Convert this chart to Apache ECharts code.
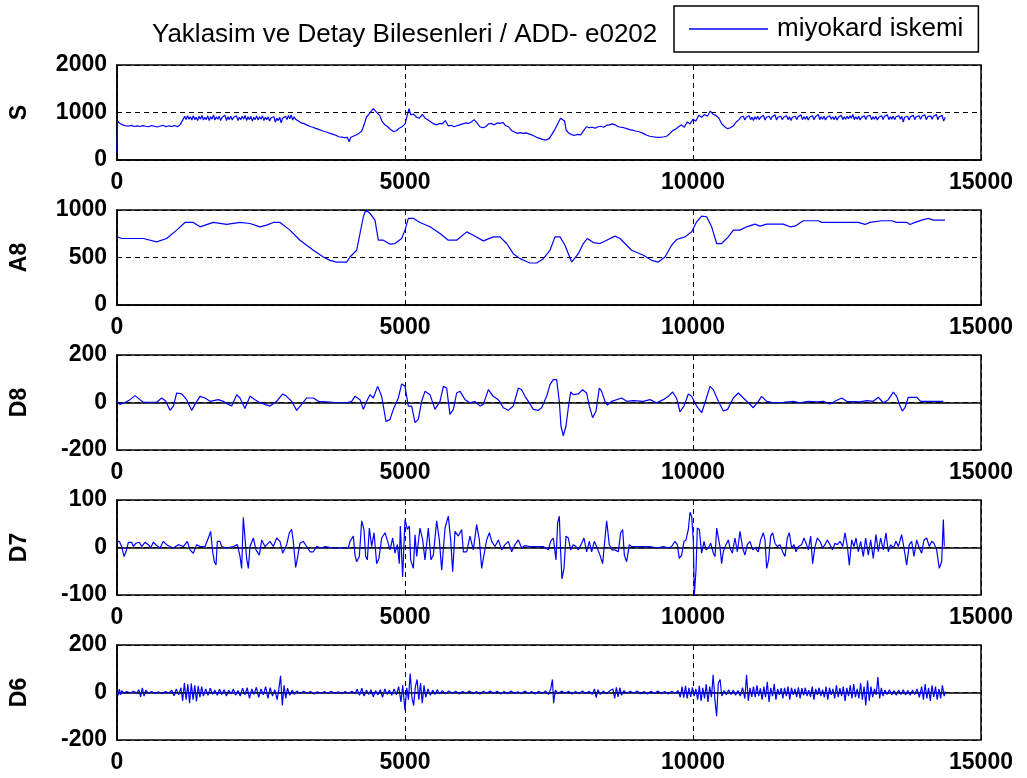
<!DOCTYPE html>
<html>
<head>
<meta charset="utf-8">
<style>
  html, body { margin: 0; padding: 0; background: #ffffff; }
  #chart { width: 1027px; height: 778px; }
</style>
<script src="https://cdn.jsdelivr.net/npm/echarts@6/dist/echarts.min.js"></script>
</head>
<body>
<div id="chart"></div>
<script>
// Wavelet decomposition of ECG record e0202: raw signal S, approximation A8, details D8, D7, D6.
const TITLE = 'Yaklasim ve Detay Bilesenleri / ADD- e0202';
const LEGEND_NAME = 'miyokard iskemi';
const PANEL_NAMES = ['S', 'A8', 'D8', 'D7', 'D6'];
const X_TICKS = [0, 5000, 10000, 15000];
const S_TICKS = [0, 1000, 2000];
const A8_TICKS = [0, 500, 1000];
const D8_TICKS = [-200, 0, 200];
const D7_TICKS = [-100, 0, 100];
const D6_TICKS = [-200, 0, 200];

// [sample index, amplitude]
const S_SIGNAL = [[0,150],[10,820],[50,770],[100,740],[150,720],[200,715],[250,730],[300,705],[350,720],[400,705],[450,725],[500,710],[550,700],[600,725],[650,710],[700,695],[750,715],[800,730],[850,700],[900,720],[950,705],[1000,725],[1050,700],[1100,750],
[1150,860],[1175,920],[1200,850],[1225,930],[1250,860],[1275,910],[1300,840],[1325,935],[1350,850],[1375,900],[1400,830],[1425,920],[1450,860],[1475,940],[1500,840],[1525,900],[1550,850],[1575,930],[1600,830],[1625,910],[1650,860],[1675,950],[1700,840],[1725,910],[1750,860],[1775,920],[1800,830],[1825,900],[1850,870],[1875,940],[1900,830],[1925,910],[1950,850],[1975,920],[2000,840],[2025,900],[2050,860],[2075,930],[2100,830],[2125,900],[2150,850],[2175,920],[2200,860],[2225,940],[2250,830],[2275,910],[2300,850],[2325,920],[2350,820],[2375,900],[2400,850],[2425,930],[2450,840],[2475,910],[2500,860],[2525,930],[2550,830],[2575,900],[2600,850],[2625,910],[2650,820],[2675,890],[2700,850],[2725,910],[2750,800],[2775,880],[2800,830],[2825,900],[2850,780],[2875,880],[2900,860],[2925,920],[2950,850],[2975,940],[3000,870],[3025,950],[3050,840],[3075,910],[3100,860],[3125,900],[3150,820],
[3200,780],[3250,765],[3300,735],[3350,705],[3400,690],[3450,665],[3500,645],[3550,620],[3600,600],[3650,585],[3700,560],[3750,540],[3800,520],[3850,490],[3900,480],[3950,470],[4000,478],[4030,385],[4060,480],[4100,500],[4150,525],[4200,560],[4250,610],[4300,780],[4330,900],[4370,960],[4400,1010],[4450,1080],[4480,1040],[4520,985],[4560,940],[4600,820],[4650,740],[4700,700],[4750,640],[4800,600],[4850,615],[4900,670],[4950,700],[5000,760],[5030,720],[5070,1080],[5100,950],[5150,965],[5200,900],[5250,880],[5300,960],[5350,880],[5400,840],[5450,800],[5500,760],[5550,740],[5600,770],[5650,760],[5700,830],[5750,720],[5800,730],[5850,700],[5900,720],[5950,740],[6000,760],[6050,780],[6100,770],[6150,800],[6200,850],[6250,780],[6300,700],[6350,680],[6400,700],[6450,760],[6500,770],[6550,740],[6600,780],[6650,770],[6700,790],[6750,720],[6800,700],[6850,620],[6900,590],[6950,560],[7000,575],[7050,560],[7100,570],[7150,550],[7200,530],[7250,500],[7300,470],[7350,450],[7400,430],[7450,420],[7500,450],[7550,540],[7600,640],[7650,760],[7700,880],[7730,910],[7770,820],[7800,620],[7850,560],[7900,530],[7950,520],[8000,540],[8050,530],[8100,620],[8150,700],[8200,680],[8250,690],[8300,670],[8350,700],[8400,710],[8450,690],[8500,730],[8550,740],[8600,760],[8650,740],[8700,700],[8750,690],[8800,680],[8850,660],[8900,640],[8950,630],[9000,610],[9050,600],[9100,580],[9150,550],[9200,520],[9250,500],[9300,490],[9350,480],[9400,478],[9450,480],[9500,490],[9550,505],[9600,560],[9650,620],[9700,650],[9750,700],[9800,740],[9850,690],[9900,800],[9950,760],[10000,860],[10050,820],[10100,940],[10150,900],[10200,960],[10250,920],[10300,1030],[10350,960],[10400,940],[10450,880],[10500,760],[10550,700],[10600,660],[10650,680],[10700,720],[10750,800],
[10800,850],[10825,900],[10850,860],[10875,920],[10900,840],[10925,900],[10950,870],[10975,930],[11000,850],[11025,900],[11050,830],[11075,910],[11100,860],[11125,920],[11150,850],[11175,900],[11200,870],[11225,940],[11250,840],[11275,900],[11300,860],[11325,920],[11350,850],[11375,910],[11400,880],[11425,950],[11450,840],[11475,900],[11500,860],[11525,920],[11550,850],[11575,900],[11600,870],[11625,930],[11650,850],[11675,910],[11700,830],[11725,900],[11750,860],[11775,920],[11800,850],[11825,910],[11850,880],[11875,950],[11900,850],[11925,910],[11950,860],[11975,920],[12000,840],[12025,900],[12050,870],[12075,930],[12100,850],[12125,910],[12150,880],[12175,960],[12200,850],[12225,910],[12250,860],[12275,920],[12300,840],[12325,900],[12350,870],[12375,930],[12400,860],[12425,910],[12450,850],[12475,920],[12500,840],[12525,900],[12550,870],[12575,940],[12600,850],[12625,910],[12650,860],[12675,920],[12700,870],[12725,930],[12750,880],[12775,960],[12800,850],[12825,910],[12850,860],[12875,920],[12900,840],[12925,900],[12950,870],[12975,930],[13000,850],[13025,920],[13050,880],[13075,940],[13100,850],[13125,910],[13150,860],[13175,920],[13200,840],[13225,900],[13250,870],[13275,930],[13300,850],[13325,920],[13350,880],[13375,950],[13400,850],[13425,910],[13450,860],[13475,920],[13500,850],[13525,910],[13550,870],[13575,930],[13600,860],[13625,920],[13650,800],[13675,900],[13700,860],[13725,920],[13750,840],[13775,910],[13800,870],[13825,940],[13850,850],[13875,910],[13900,870],[13925,930],[13950,860],[13975,920],[14000,880],[14025,950],[14050,850],[14075,910],[14100,870],[14125,930],[14150,860],[14175,920],[14200,880],[14225,960],[14250,850],[14275,910],[14300,870],[14325,940],[14350,820],[14380,900]];

const A8_SIGNAL = [[0,721],[81,700],[457,700],[689,664],[862,700],[1036,788],[1180,869],[1325,869],[1441,823],[1672,869],[1904,848],[2135,869],[2309,858],[2483,823],[2598,841],[2714,869],[2830,869],[3003,788],[3177,682],[3409,576],[3582,505],[3698,470],[3814,452],[3987,452],[4045,505],[4161,576],[4219,753],[4277,929],[4317,1000],[4392,965],[4479,894],[4537,682],[4624,682],[4740,640],[4826,647],[4942,700],[5000,788],[5058,912],[5145,912],[5260,869],[5434,823],[5608,753],[5752,682],[5897,682],[6071,770],[6186,735],[6360,675],[6534,717],[6649,717],[6765,647],[6880,540],[6996,488],[7170,442],[7286,442],[7401,488],[7517,576],[7604,717],[7691,717],[7777,629],[7893,452],[8009,540],[8096,647],[8165,700],[8270,657],[8385,647],[8501,682],[8646,725],[8732,700],[8935,576],[9138,523],[9282,470],[9398,452],[9513,505],[9629,629],[9716,689],[9861,717],[9977,770],[10063,876],[10150,936],[10237,929],[10324,823],[10411,647],[10497,647],[10613,717],[10700,788],[10816,788],[10931,823],[11076,851],[11163,830],[11279,851],[11568,851],[11684,823],[11770,830],[11915,887],[12176,887],[12234,870],[12870,870],[12986,848],[13072,870],[13275,887],[13449,887],[13535,870],[13709,870],[13767,848],[13854,870],[13970,894],[14085,912],[14172,894],[14375,894]];

const D8_SIGNAL = [[0,5],[50,-8],[139,0],[226,12],[312,29],[399,12],[457,1],[689,1],[775,19],[845,6],[920,-33],[978,-15],[1036,40],[1123,36],[1209,12],[1296,-33],[1354,-8],[1441,26],[1528,19],[1615,5],[1759,12],[1846,5],[1933,-8],[1990,-15],[2078,33],[2135,19],[2222,-25],[2309,26],[2396,12],[2483,-1],[2569,-8],[2656,-15],[2772,5],[2876,36],[2946,26],[3032,5],[3119,-33],[3206,-8],[3293,19],[3409,19],[3495,5],[3756,1],[3987,-1],[4074,5],[4132,26],[4219,12],[4277,-29],[4335,5],[4392,33],[4450,19],[4525,68],[4595,26],[4670,-80],[4740,-71],[4797,-29],[4884,19],[4942,78],[5000,68],[5058,-15],[5116,-15],[5174,-85],[5231,-71],[5289,5],[5347,47],[5434,33],[5521,-29],[5608,5],[5666,68],[5723,61],[5781,-50],[5839,-29],[5897,40],[5955,47],[6042,12],[6128,-1],[6215,5],[6302,-15],[6360,-8],[6447,54],[6533,26],[6620,12],[6707,-22],[6794,-33],[6880,-15],[6967,61],[7025,54],[7083,26],[7141,5],[7228,-29],[7314,-33],[7372,-22],[7459,26],[7517,75],[7575,96],[7633,96],[7679,5],[7708,-99],[7748,-140],[7795,-99],[7835,-22],[7876,44],[7922,33],[8009,36],[8084,54],[8153,40],[8200,-15],[8258,-64],[8316,-36],[8373,61],[8414,47],[8472,5],[8512,-11],[8588,5],[8761,19],[8848,5],[8964,8],[9138,5],[9253,12],[9369,-1],[9485,12],[9571,26],[9647,44],[9716,17],[9774,-39],[9843,-15],[9919,36],[9977,26],[10063,-15],[10150,-43],[10208,-1],[10295,68],[10353,54],[10440,5],[10526,-36],[10601,-29],[10700,19],[10787,40],[10874,19],[10960,-1],[11047,-22],[11134,5],[11192,26],[11279,5],[11394,-1],[11568,1],[11742,5],[11858,-1],[12002,5],[12147,3],[12263,5],[12379,-6],[12465,5],[12581,19],[12668,5],[12899,3],[13015,8],[13130,5],[13217,22],[13304,-1],[13391,12],[13478,44],[13536,26],[13594,-15],[13634,-36],[13680,-22],[13738,22],[13883,22],[13952,5],[14172,5],[14346,5]];

const D7_SIGNAL = [[0,13],[40,13],[81,2],[122,-19],[156,-9],[197,11],[255,11],[284,2],[330,9],[388,11],[428,2],[486,11],[544,6],[584,-1],[631,11],[689,4],[747,-1],[804,13],[862,6],[920,2],[978,-1],[1065,6],[1152,2],[1221,13],[1267,-5],[1325,-12],[1383,6],[1441,2],[1528,2],[1586,20],[1626,34],[1661,-9],[1690,-30],[1719,-37],[1742,13],[1788,13],[1817,2],[1904,-1],[2020,2],[2089,6],[2135,-18],[2164,-44],[2193,63],[2222,66],[2251,-23],[2280,-44],[2309,2],[2367,20],[2413,-5],[2471,-16],[2512,16],[2569,2],[2656,13],[2714,2],[2772,20],[2830,13],[2876,-12],[2946,6],[2992,31],[3032,38],[3061,13],[3102,-42],[3137,-19],[3177,9],[3235,13],[3293,2],[3351,-9],[3409,-9],[3466,2],[3553,-1],[3611,2],[3756,-1],[4016,-1],[4045,13],[4103,24],[4132,-16],[4161,-30],[4207,-19],[4248,56],[4288,38],[4317,-19],[4346,-26],[4381,41],[4421,2],[4462,31],[4508,-34],[4548,-23],[4595,20],[4653,31],[4699,13],[4740,-5],[4786,20],[4826,-12],[4867,6],[4901,-34],[4919,45],[4959,-62],[5000,59],[5041,38],[5075,45],[5098,-26],[5145,-44],[5174,27],[5203,-19],[5260,41],[5307,16],[5347,-26],[5405,41],[5451,-26],[5492,-16],[5550,56],[5596,16],[5637,-48],[5695,41],[5752,66],[5793,16],[5828,-51],[5868,34],[5926,24],[5984,38],[6013,-9],[6071,-9],[6128,24],[6186,-5],[6244,48],[6291,16],[6331,-44],[6360,-23],[6418,16],[6465,31],[6505,13],[6562,2],[6620,16],[6678,-5],[6736,6],[6794,13],[6852,-9],[6910,6],[6968,16],[7025,-1],[7083,4],[7170,2],[7401,2],[7488,-5],[7529,13],[7575,20],[7621,-26],[7650,52],[7679,66],[7702,-9],[7725,-66],[7760,-44],[7795,24],[7835,20],[7876,-5],[7922,6],[7968,2],[8009,-5],[8067,9],[8107,20],[8153,-9],[8200,13],[8240,-9],[8287,13],[8327,2],[8385,-16],[8431,-34],[8472,20],[8501,56],[8547,6],[8593,-5],[8646,-5],[8704,-9],[8744,31],[8779,38],[8808,-16],[8848,-30],[8894,6],[8935,2],[9022,2],[9138,2],[9253,2],[9369,-1],[9485,2],[9571,-1],[9629,2],[9687,13],[9727,6],[9762,-23],[9803,-16],[9843,13],[9878,16],[9919,38],[9948,74],[9977,66],[10005,16],[10023,-100],[10052,-48],[10075,41],[10110,38],[10150,-12],[10191,13],[10225,-5],[10266,-1],[10307,9],[10353,-12],[10382,-19],[10411,41],[10440,45],[10468,2],[10497,-34],[10526,-9],[10572,6],[10613,16],[10642,-1],[10683,-12],[10729,20],[10770,-9],[10816,34],[10862,-1],[10902,-16],[10943,6],[10989,13],[11036,-5],[11076,-1],[11134,-9],[11174,16],[11221,31],[11250,16],[11279,-44],[11313,-26],[11348,24],[11383,31],[11423,9],[11464,2],[11510,6],[11556,-9],[11597,-19],[11637,20],[11672,31],[11713,-1],[11753,6],[11788,-9],[11829,2],[11886,6],[11927,20],[11962,9],[12002,-5],[12043,24],[12077,-34],[12118,2],[12159,20],[12205,13],[12251,-1],[12291,6],[12332,16],[12378,6],[12424,-5],[12465,9],[12506,6],[12552,13],[12598,2],[12639,31],[12680,2],[12714,-37],[12755,16],[12795,2],[12830,20],[12870,-9],[12911,13],[12957,-19],[12997,20],[13044,-16],[13084,16],[13130,-23],[13177,27],[13217,-9],[13257,20],[13304,-5],[13350,31],[13391,-9],[13431,6],[13478,-1],[13524,13],[13565,2],[13622,27],[13663,-1],[13709,-37],[13755,6],[13796,13],[13836,-19],[13883,16],[13929,-1],[13970,-12],[14010,16],[14056,20],[14103,2],[14144,13],[14184,9],[14230,-5],[14276,-44],[14317,-30],[14346,59],[14363,2]];

const D6_SIGNAL = [[0,5],[20,-12],[40,14],[60,-10],[80,8],[120,-3],[170,4],[230,-2],[290,5],[340,-3],[380,12],[410,-18],[440,20],[470,-15],[500,10],[540,-3],[600,4],[660,-4],[720,3],[780,-5],[840,4],[900,-3],[950,10],[990,-14],[1030,15],[1070,-10],[1110,20],[1140,-35],[1170,40],[1200,-30],[1230,35],[1260,-45],[1290,38],[1320,-30],[1350,30],[1380,-38],[1410,28],[1440,-20],[1470,25],[1500,-15],[1540,15],[1580,-12],[1620,18],[1660,-8],[1700,10],[1740,-12],[1780,14],[1820,-8],[1860,12],[1900,-15],[1940,10],[1980,-6],[2020,15],[2060,-12],[2100,8],[2140,-15],[2180,18],[2220,-10],[2260,20],[2300,-25],[2340,15],[2380,-8],[2420,22],[2460,-20],[2500,15],[2540,-10],[2580,25],[2620,-25],[2660,20],[2700,-15],[2740,12],[2780,-30],[2810,15],[2840,70],[2870,-55],[2900,30],[2930,-25],[2960,18],[3000,-12],[3040,10],[3080,-8],[3120,6],[3180,-4],[3240,5],[3300,-3],[3360,4],[3420,-6],[3480,3],[3540,-4],[3600,4],[3660,-3],[3720,5],[3780,-4],[3840,3],[3900,-5],[3960,4],[4020,-3],[4080,5],[4130,-6],[4170,14],[4210,-12],[4250,18],[4290,-15],[4330,10],[4370,-8],[4410,12],[4450,-18],[4490,8],[4530,-10],[4570,12],[4610,-20],[4650,15],[4690,-8],[4730,10],[4770,-12],[4810,15],[4850,-10],[4890,25],[4930,-40],[4960,30],[5000,-75],[5030,20],[5060,-30],[5090,80],[5120,-20],[5150,-55],[5180,25],[5210,55],[5240,-30],[5270,40],[5300,-45],[5330,30],[5360,-20],[5400,15],[5440,-12],[5480,10],[5520,-8],[5560,12],[5600,-6],[5650,8],[5700,-5],[5760,6],[5820,-4],[5880,5],[5940,-6],[6000,4],[6060,-3],[6120,6],[6180,-5],[6240,4],[6300,-6],[6360,5],[6420,-3],[6480,6],[6540,-4],[6600,5],[6660,-6],[6720,4],[6780,-5],[6840,6],[6900,-4],[6960,3],[7020,-5],[7080,6],[7140,-4],[7200,4],[7260,-6],[7320,5],[7380,-4],[7440,6],[7490,-8],[7530,15],[7560,55],[7580,-45],[7610,10],[7660,-5],[7720,6],[7780,-4],[7840,5],[7900,-6],[7960,4],[8020,-5],[8080,6],[8140,-4],[8200,5],[8250,-8],[8290,15],[8320,-22],[8350,12],[8390,-8],[8440,6],[8500,-5],[8560,8],[8610,15],[8640,-25],[8670,22],[8700,-18],[8730,20],[8760,-12],[8800,8],[8850,-4],[8910,5],[8970,-3],[9030,6],[9090,-5],[9150,4],[9210,-6],[9270,5],[9330,-4],[9390,6],[9450,-5],[9510,4],[9570,-6],[9630,5],[9690,-4],[9740,8],[9780,-20],[9810,25],[9840,-22],[9870,28],[9900,-25],[9930,20],[9960,-18],[9990,22],[10020,-15],[10050,15],[10080,-30],[10110,28],[10140,-35],[10170,20],[10200,-25],[10230,35],[10260,-40],[10290,25],[10320,-20],[10350,75],[10380,-30],[10410,-100],[10440,40],[10470,55],[10500,-15],[10540,8],[10580,-10],[10620,12],[10660,-8],[10700,10],[10740,-12],[10780,8],[10820,-15],[10860,20],[10900,-25],[10930,75],[10960,-35],[10990,20],[11020,-18],[11050,25],[11080,-20],[11110,30],[11140,-15],[11170,18],[11200,-30],[11230,25],[11260,-20],[11290,45],[11320,-40],[11350,20],[11380,-15],[11410,35],[11440,-30],[11470,15],[11500,-10],[11530,18],[11560,-25],[11590,20],[11620,-15],[11650,25],[11680,-30],[11710,20],[11740,-10],[11770,15],[11800,-20],[11830,22],[11860,-25],[11890,18],[11920,-12],[11950,20],[11980,-15],[12010,10],[12040,-18],[12070,25],[12100,-30],[12130,15],[12160,-10],[12190,20],[12220,-15],[12250,12],[12280,-20],[12310,25],[12340,-30],[12370,20],[12400,-10],[12430,15],[12460,-25],[12490,30],[12520,-20],[12550,18],[12580,-15],[12610,25],[12640,-35],[12670,20],[12700,-15],[12730,30],[12760,-25],[12790,35],[12820,-20],[12850,15],[12880,-25],[12910,40],[12940,-30],[12970,25],[13000,-55],[13030,50],[13060,-35],[13090,25],[13120,-20],[13150,15],[13180,-10],[13210,65],[13240,-25],[13270,20],[13300,-15],[13330,10],[13370,-8],[13410,12],[13450,-10],[13490,8],[13530,-12],[13570,10],[13610,-8],[13650,12],[13690,-10],[13730,8],[13770,-12],[13810,10],[13850,-8],[13890,15],[13930,-20],[13970,25],[14000,-30],[14030,35],[14060,-25],[14090,20],[14120,-35],[14150,30],[14180,-20],[14210,25],[14240,-30],[14270,15],[14300,-25],[14330,30],[14360,-15],[14380,5]];

const SIGNALS = [S_SIGNAL, A8_SIGNAL, D8_SIGNAL, D7_SIGNAL, D6_SIGNAL];
const TICKS = [S_TICKS, A8_TICKS, D8_TICKS, D7_TICKS, D6_TICKS];

const FONT = '"Liberation Sans", Arial, sans-serif';
const LINE_BLUE = '#0000ff';
const PANEL_TOP = 65, PANEL_STEP = 145, PANEL_HEIGHT = 95;
const plain = v => String(v);
const tickText = { color: '#000', fontSize: 23, fontWeight: 'bold', fontFamily: FONT, formatter: plain };

const grids = [], xAxes = [], yAxes = [], series = [];
PANEL_NAMES.forEach((name, i) => {
  const ticks = TICKS[i];
  grids.push({
    left: 117, right: 46, top: PANEL_TOP + i * PANEL_STEP, height: PANEL_HEIGHT,
    show: true, borderColor: '#000', borderWidth: 1.5, backgroundColor: '#fff'
  });
  xAxes.push({
    type: 'value', gridIndex: i,
    min: X_TICKS[0], max: X_TICKS[X_TICKS.length - 1], interval: X_TICKS[1] - X_TICKS[0],
    axisLine: { show: true, lineStyle: { color: '#000', width: 1.5 } },
    axisTick: { show: false },
    axisLabel: Object.assign({ margin: 11 }, tickText),
    splitLine: { show: true, lineStyle: { color: '#000', width: 1, type: [5, 4] } }
  });
  yAxes.push({
    type: 'value', gridIndex: i,
    min: ticks[0], max: ticks[ticks.length - 1], interval: ticks[1] - ticks[0],
    name: name, nameLocation: 'middle', nameRotate: 90, nameGap: 86,
    nameTextStyle: { color: '#000', fontSize: 23, fontWeight: 'bold', fontFamily: FONT },
    axisLine: { show: true, lineStyle: { color: '#000', width: 1.5 } },
    axisTick: { show: false },
    axisLabel: Object.assign({ margin: 10 }, tickText),
    splitLine: { show: true, lineStyle: { color: '#000', width: 1, type: [5, 4] } }
  });
  series.push({
    name: i === 0 ? LEGEND_NAME : name,
    type: 'line', xAxisIndex: i, yAxisIndex: i,
    data: SIGNALS[i],
    symbol: 'none', showSymbol: false,
    lineStyle: { color: LINE_BLUE, width: 1.2 },
    itemStyle: { color: LINE_BLUE },
    clip: true, z: 3
  });
});

const chart = echarts.init(document.getElementById('chart'), null, { renderer: 'canvas' });
chart.setOption({
  backgroundColor: '#ffffff',
  animation: false,
  title: {
    text: TITLE, left: 147, top: 17,
    textStyle: { color: '#000', fontSize: 26, fontWeight: 'normal', fontFamily: FONT }
  },
  legend: {
    data: [{ name: LEGEND_NAME, icon: 'rect' }],
    left: 674, top: 6,
    padding: [10, 15, 10, 15],
    borderColor: '#000', borderWidth: 1.5, backgroundColor: '#fff',
    itemWidth: 79, itemHeight: 1.5,
    itemStyle: { color: LINE_BLUE },
    textStyle: { color: '#000', fontSize: 26, fontFamily: FONT, padding: [0, 0, 0, 4] }
  },
  grid: grids,
  xAxis: xAxes,
  yAxis: yAxes,
  series: series
});
</script>
</body>
</html>
